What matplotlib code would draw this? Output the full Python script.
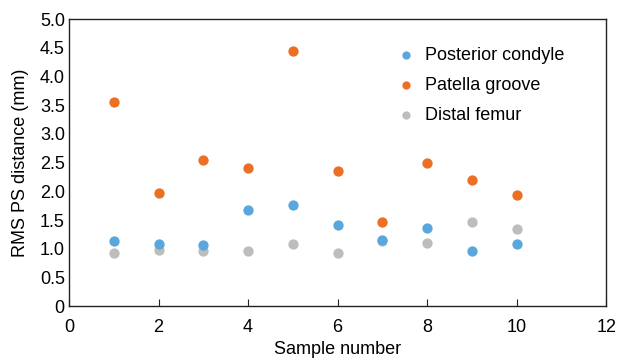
import matplotlib.pyplot as plt

plt.rcParams['font.family'] = ['Liberation Sans', 'DejaVu Sans']

samples = [1, 2, 3, 4, 5, 6, 7, 8, 9, 10]
posterior = [1.13, 1.08, 1.06, 1.67, 1.76, 1.41, 1.15, 1.36, 0.96, 1.08]
patella = [3.55, 1.97, 2.54, 2.40, 4.44, 2.35, 1.46, 2.49, 2.20, 1.93]
distal = [0.92, 0.98, 0.96, 0.96, 1.08, 0.92, 1.13, 1.10, 1.46, 1.34]

fig = plt.figure(figsize=(6.19, 3.61), dpi=100)
ax = fig.add_axes([0.1115, 0.152, 0.868, 0.795])

ax.scatter(samples, posterior, s=55, color='#5aa7de', label='Posterior condyle', zorder=3, linewidths=0)
ax.scatter(samples, patella, s=55, color='#ec6f26', label='Patella groove', zorder=3, linewidths=0)
ax.scatter(samples, distal, s=55, color='#bdbdbd', label='Distal femur', zorder=2, linewidths=0)

ax.set_xlim(0, 12)
ax.set_ylim(0, 5.0)
ax.set_xticks([0, 2, 4, 6, 8, 10, 12])
yt = [0, 0.5, 1.0, 1.5, 2.0, 2.5, 3.0, 3.5, 4.0, 4.5, 5.0]
ax.set_yticks(yt)
ax.set_yticklabels(['0'] + ['%.1f' % v for v in yt[1:]])
ax.tick_params(axis='x', direction='in', length=5, labelsize=13, pad=9, color='#222222')
ax.tick_params(axis='y', length=0, labelsize=13, pad=3)
for sp in ax.spines.values():
    sp.set_linewidth(1.0)
    sp.set_color('#222222')

ax.set_xlabel('Sample number', fontsize=13, labelpad=4)
ax.set_ylabel('RMS PS distance (mm)', fontsize=13, labelpad=8)

leg = ax.legend(loc='upper right', bbox_to_anchor=(0.945, 0.948), frameon=False, fontsize=13,
                handletextpad=0.05, labelspacing=0.72, markerscale=0.8, borderpad=0.2)

fig.savefig('out.png', dpi=100)
